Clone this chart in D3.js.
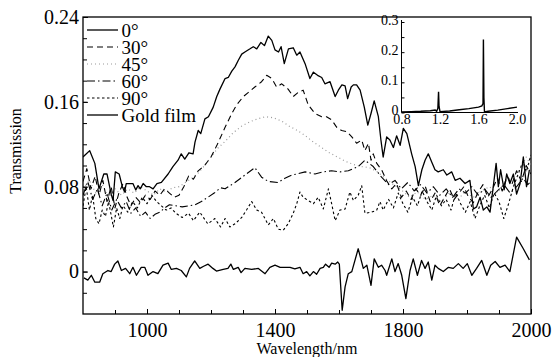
<!DOCTYPE html>
<html><head><meta charset="utf-8">
<script src="https://cdn.jsdelivr.net/npm/d3@7"></script>
<style>
body{margin:0;background:#fff}
svg{display:block}
</style>
</head><body>
<svg id="c" width="553" height="357"></svg>
<script>
// ---------- data ----------
const xTickValues = [1000, 1400, 1800, 2200];
const xTickLabels = ["1000", "1400", "1800", "2000"];
const yTickValues = [0, 0.08, 0.16, 0.24];
const yTickLabels = ["0", "0.08", "0.16", "0.24"];
const seriesNames = ["0°", "30°", "45°", "60°", "90°", "Gold film"];

const deg0 = [[800,0.108],[821,0.114],[837,0.102],[850,0.078],[865,0.092],[875,0.092],[888,0.073],[894,0.067],[901,0.094],[913,0.092],[923,0.080],[930,0.075],[935,0.083],[956,0.083],[965,0.077],[972,0.081],[979,0.078],[988,0.083],[998,0.080],[1008,0.080],[1019,0.078],[1031,0.083],[1045,0.084],[1066,0.092],[1081,0.099],[1097,0.105],[1107,0.111],[1118,0.106],[1131,0.112],[1144,0.111],[1150,0.122],[1160,0.133],[1168,0.130],[1181,0.144],[1192,0.146],[1207,0.155],[1218,0.165],[1228,0.172],[1244,0.182],[1254,0.183],[1265,0.189],[1275,0.193],[1285,0.199],[1296,0.205],[1306,0.207],[1322,0.210],[1332,0.212],[1343,0.210],[1356,0.216],[1367,0.213],[1379,0.222],[1390,0.218],[1400,0.209],[1411,0.207],[1419,0.212],[1429,0.196],[1442,0.210],[1457,0.211],[1468,0.204],[1478,0.207],[1494,0.196],[1509,0.182],[1520,0.188],[1533,0.185],[1546,0.183],[1556,0.177],[1572,0.179],[1588,0.165],[1598,0.171],[1609,0.176],[1619,0.175],[1627,0.163],[1638,0.174],[1645,0.176],[1655,0.176],[1666,0.171],[1679,0.155],[1690,0.138],[1700,0.149],[1710,0.161],[1723,0.146],[1731,0.124],[1738,0.108],[1749,0.127],[1759,0.124],[1770,0.117],[1780,0.128],[1791,0.119],[1801,0.135],[1812,0.130],[1827,0.111],[1838,0.099],[1848,0.081],[1859,0.096],[1869,0.105],[1879,0.111],[1890,0.103],[1900,0.096],[1910,0.094],[1926,0.096],[1937,0.091],[1952,0.094],[1963,0.086],[1978,0.088],[1994,0.083],[2009,0.086],[2020,0.059],[2030,0.061],[2041,0.070],[2051,0.058],[2062,0.061],[2072,0.056],[2082,0.080],[2091,0.102],[2098,0.080],[2105,0.096],[2116,0.077],[2124,0.092],[2134,0.083],[2145,0.092],[2155,0.073],[2166,0.083],[2176,0.108],[2186,0.080],[2195,0.096]];

const deg30 = [[800,0.085],[812,0.097],[825,0.078],[838,0.090],[850,0.072],[862,0.086],[875,0.066],[888,0.080],[900,0.060],[912,0.074],[925,0.083],[938,0.070],[950,0.062],[965,0.070],[980,0.065],[995,0.072],[1010,0.068],[1025,0.076],[1040,0.072],[1055,0.078],[1070,0.074],[1085,0.070],[1100,0.072],[1115,0.080],[1130,0.090],[1145,0.087],[1160,0.095],[1180,0.100],[1200,0.108],[1220,0.120],[1244,0.136],[1265,0.149],[1280,0.157],[1301,0.165],[1317,0.169],[1337,0.174],[1358,0.179],[1374,0.185],[1390,0.182],[1405,0.174],[1421,0.177],[1441,0.172],[1457,0.165],[1473,0.169],[1488,0.171],[1504,0.157],[1525,0.149],[1546,0.146],[1561,0.146],[1577,0.143],[1593,0.136],[1608,0.133],[1624,0.132],[1640,0.127],[1655,0.121],[1671,0.124],[1681,0.114],[1692,0.121],[1700,0.105],[1707,0.111],[1718,0.102],[1733,0.096],[1750,0.085],[1765,0.078],[1780,0.083],[1795,0.070],[1810,0.076],[1825,0.068],[1840,0.078],[1855,0.072],[1870,0.080],[1885,0.066],[1900,0.074],[1915,0.062],[1930,0.070],[1945,0.078],[1960,0.068],[1975,0.074],[1990,0.080],[2005,0.070],[2020,0.065],[2035,0.075],[2050,0.082],[2065,0.070],[2080,0.078],[2095,0.088],[2110,0.076],[2125,0.090],[2140,0.082],[2155,0.095],[2170,0.085],[2185,0.100],[2200,0.092]];

const deg45 = [[800,0.078],[820,0.086],[840,0.074],[860,0.082],[880,0.070],[900,0.078],[920,0.072],[940,0.078],[960,0.074],[980,0.080],[1000,0.076],[1020,0.072],[1040,0.078],[1060,0.075],[1080,0.079],[1100,0.080],[1120,0.084],[1140,0.088],[1160,0.093],[1180,0.100],[1200,0.108],[1220,0.116],[1245,0.123],[1270,0.131],[1295,0.137],[1320,0.141],[1345,0.144],[1370,0.146],[1395,0.145],[1420,0.142],[1445,0.137],[1470,0.133],[1495,0.128],[1520,0.122],[1545,0.117],[1570,0.112],[1595,0.108],[1620,0.104],[1645,0.101],[1670,0.099],[1695,0.098],[1720,0.094],[1745,0.088],[1770,0.082],[1795,0.077],[1820,0.070],[1845,0.075],[1870,0.068],[1895,0.072],[1920,0.066],[1945,0.074],[1970,0.068],[1995,0.075],[2020,0.070],[2045,0.076],[2070,0.080],[2095,0.074],[2120,0.085],[2145,0.090],[2170,0.098],[2185,0.108],[2200,0.100]];

const deg60 = [[800,0.072],[815,0.085],[830,0.068],[845,0.078],[860,0.062],[875,0.074],[890,0.058],[905,0.068],[920,0.060],[935,0.066],[950,0.055],[965,0.060],[980,0.052],[995,0.056],[1010,0.050],[1025,0.054],[1040,0.056],[1055,0.060],[1070,0.063],[1090,0.062],[1110,0.061],[1130,0.062],[1150,0.063],[1170,0.066],[1190,0.070],[1210,0.074],[1230,0.079],[1244,0.078],[1275,0.084],[1306,0.091],[1337,0.098],[1358,0.089],[1379,0.085],[1410,0.084],[1431,0.088],[1452,0.091],[1468,0.092],[1494,0.094],[1525,0.092],[1551,0.094],[1577,0.095],[1603,0.094],[1629,0.095],[1660,0.099],[1681,0.105],[1707,0.099],[1733,0.089],[1755,0.082],[1775,0.086],[1795,0.078],[1815,0.084],[1835,0.076],[1855,0.082],[1875,0.074],[1895,0.080],[1915,0.072],[1935,0.078],[1955,0.070],[1975,0.078],[1995,0.074],[2015,0.080],[2035,0.072],[2055,0.078],[2075,0.070],[2095,0.076],[2115,0.082],[2135,0.074],[2155,0.080],[2175,0.088],[2190,0.082],[2200,0.085]];

const deg90 = [[800,0.062],[810,0.080],[820,0.058],[830,0.072],[840,0.050],[850,0.045],[860,0.058],[870,0.052],[880,0.066],[895,0.042],[905,0.060],[915,0.050],[925,0.062],[940,0.056],[955,0.066],[970,0.060],[985,0.070],[1000,0.064],[1015,0.072],[1030,0.066],[1045,0.062],[1060,0.058],[1075,0.060],[1090,0.055],[1110,0.051],[1130,0.055],[1145,0.048],[1165,0.056],[1190,0.045],[1212,0.050],[1230,0.042],[1244,0.050],[1259,0.042],[1275,0.045],[1296,0.051],[1311,0.058],[1327,0.066],[1343,0.058],[1358,0.056],[1379,0.044],[1395,0.050],[1410,0.040],[1426,0.039],[1441,0.045],[1457,0.055],[1468,0.064],[1478,0.075],[1488,0.070],[1504,0.067],[1520,0.064],[1535,0.070],[1551,0.059],[1567,0.078],[1577,0.064],[1588,0.048],[1603,0.058],[1619,0.059],[1634,0.075],[1645,0.067],[1660,0.072],[1671,0.081],[1681,0.055],[1702,0.056],[1718,0.058],[1728,0.066],[1738,0.058],[1755,0.068],[1770,0.060],[1785,0.074],[1800,0.064],[1815,0.056],[1830,0.070],[1845,0.062],[1860,0.076],[1875,0.066],[1890,0.058],[1905,0.072],[1920,0.062],[1935,0.068],[1950,0.058],[1965,0.074],[1980,0.064],[1995,0.056],[2010,0.066],[2025,0.050],[2040,0.062],[2055,0.072],[2070,0.060],[2085,0.074],[2100,0.066],[2115,0.050],[2130,0.064],[2145,0.080],[2160,0.092],[2175,0.104],[2185,0.094],[2200,0.110]];

const goldFilm = [[803,-0.006],[815,-0.008],[826,-0.0035],[837,-0.010],[852,-0.010],[862,-0.002],[878,0.001],[888,0],[899,0.007],[909,0.010],[920,0.001],[933,0.003],[946,-0.002],[956,0.004],[967,-0.0035],[982,0.004],[993,0.004],[1003,-0.0035],[1019,0],[1034,-0.002],[1050,0.006],[1066,0.008],[1076,0.002],[1092,0.003],[1107,0.001],[1123,-0.005],[1133,0.003],[1149,0.010],[1165,0.003],[1177,0.005],[1191,0.007],[1206,0.003],[1217,0.0005],[1238,0.002],[1253,0.003],[1262,0.007],[1270,0.002],[1285,0.004],[1294,-0.001],[1306,0.003],[1327,0.002],[1348,0.003],[1369,-0.002],[1384,0.004],[1400,0.006],[1416,0.004],[1447,0.004],[1462,0.0025],[1478,0.004],[1488,-0.002],[1499,0],[1509,-0.004],[1520,0],[1530,-0.0025],[1541,0.003],[1551,0.004],[1558,0.007],[1569,0.004],[1577,0.008],[1588,0.007],[1596,0.009],[1601,0.007],[1610,-0.0365],[1619,-0.0145],[1629,-0.002],[1640,0],[1660,0.0215],[1676,0.003],[1687,0.006],[1700,-0.013],[1710,0.012],[1723,0.004],[1733,0.006],[1744,0.001],[1749,-0.0035],[1765,0.012],[1775,0],[1785,0.0075],[1796,-0.0035],[1809,-0.0255],[1822,0.001],[1832,0.012],[1845,-0.0035],[1858,0.0105],[1869,0.003],[1879,0.009],[1890,-0.008],[1900,0.006],[1910,0.003],[1926,0],[1942,0.004],[1957,0.003],[1973,0.0075],[1988,0.003],[2001,0.0075],[2015,-0.0035],[2030,0.003],[2046,0.0105],[2062,-0.0035],[2074,0.006],[2088,0.0095],[2103,0.004],[2119,0.006],[2134,0],[2155,0.0325],[2176,0.0215],[2195,0.011]];

// inset (wavelength in µm)
const insetData = [[0.8,0.002],[0.9,0.003],[1.0,0.004],[1.1,0.006],[1.15,0.008],[1.165,0.004],[1.178,0.014],[1.185,0.069],[1.19,0.02],[1.2,0.003],[1.3,0.005],[1.4,0.009],[1.5,0.013],[1.6,0.018],[1.635,0.022],[1.647,0.03],[1.651,0.242],[1.656,0.05],[1.662,0.002],[1.7,0.004],[1.8,0.008],[1.9,0.013],[2.0,0.018]];
const insetXTicks = [0.8, 1.2, 1.6, 2.0];
const insetYTicks = [0, 0.1, 0.2, 0.3];

// ---------- chart ----------
const FONT = "'Liberation Serif','Times New Roman','DejaVu Serif',serif";
const svg = d3.select("#c").attr("font-family", FONT);
const P = {l:83, r:531, t:17, b:314};
const x = d3.scaleLinear().domain([800, 2200]).range([P.l, P.r]);
const y = d3.scaleLinear().domain([-0.04, 0.24]).range([P.b, P.t]);

svg.append("defs").append("clipPath").attr("id","plotclip")
  .append("rect").attr("x",P.l).attr("y",P.t).attr("width",P.r-P.l).attr("height",P.b-P.t);

function styleAxis(g, size){
  g.attr("font-family", FONT).attr("font-size", size);
  g.select(".domain").remove();
  g.selectAll("text").attr("font-family", FONT).attr("font-size", size).attr("fill","#000");
  g.selectAll(".tick line").attr("stroke","#000").attr("stroke-width",1);
}

// minor + major ticks
svg.append("g").attr("transform",`translate(0,${P.b})`)
  .call(d3.axisBottom(x).tickValues(d3.range(900, 2200, 100)).tickSize(-4).tickFormat(""))
  .call(g=>styleAxis(g,20));
svg.append("g").attr("transform",`translate(0,${P.b})`)
  .call(d3.axisBottom(x).tickValues(xTickValues).tickSize(-5).tickPadding(9)
        .tickFormat((d,i)=>xTickLabels[i]))
  .call(g=>styleAxis(g,20));
svg.append("g").attr("transform",`translate(${P.l},0)`)
  .call(d3.axisLeft(y).tickValues(d3.range(-0.02, 0.2401, 0.02)).tickSize(-4).tickFormat(""))
  .call(g=>styleAxis(g,20));
svg.append("g").attr("transform",`translate(${P.l},0)`)
  .call(d3.axisLeft(y).tickValues(yTickValues).tickSize(-5).tickPadding(4)
        .tickFormat((d,i)=>yTickLabels[i]))
  .call(g=>styleAxis(g,20));

// frame
svg.append("rect").attr("x",P.l).attr("y",P.t).attr("width",P.r-P.l).attr("height",P.b-P.t)
  .attr("fill","none").attr("stroke","#000").attr("stroke-width",1.3);

// axis titles
svg.append("text").attr("x",(P.l+P.r)/2).attr("y",354).attr("text-anchor","middle")
  .attr("font-family",FONT).attr("font-size",16).text("Wavelength/nm");
svg.append("text").attr("transform","translate(21,151) rotate(-90)").attr("text-anchor","middle")
  .attr("font-family",FONT).attr("font-size",16).text("Transmission");

// series
const styles = [
  {data:deg0,  color:"#000", w:1.3, dash:null},
  {data:deg30, color:"#000", w:1.1, dash:"6,4"},
  {data:deg45, color:"#9a9a9a", w:1.2, dash:"1,3"},
  {data:deg60, color:"#000", w:1.1, dash:"8,3,1.5,3"},
  {data:deg90, color:"#000", w:1.1, dash:"2.5,2.5"},
  {data:goldFilm, color:"#000", w:1.3, dash:null}
];
const line = d3.line().x(d=>x(d[0])).y(d=>y(d[1]));
const gS = svg.append("g").attr("clip-path","url(#plotclip)");
styles.slice().reverse().forEach(s=>{
  gS.append("path").datum(s.data).attr("d",line).attr("fill","none")
    .attr("stroke",s.color).attr("stroke-width",s.w).attr("stroke-linejoin","round")
    .attr("stroke-dasharray",s.dash);
});

// legend
const leg = svg.append("g");
seriesNames.forEach((name,i)=>{
  const ly = 30 + i*17;
  const s = styles[i];
  leg.append("line").attr("x1",87).attr("x2",118).attr("y1",ly).attr("y2",ly)
    .attr("stroke",s.color).attr("stroke-width",s.w).attr("stroke-dasharray",s.dash);
  leg.append("text").attr("x",121.5).attr("y",ly+6.5).attr("font-family",FONT)
    .attr("font-size",19).text(name);
});

// inset
const ix = d3.scaleLinear().domain([0.8, 2.0]).range([401.5, 517]);
const iy = d3.scaleLinear().domain([0, 0.3]).range([112.5, 22]);
const gi = svg.append("g");
gi.append("g").attr("transform","translate(401.5,0)")
  .call(d3.axisLeft(iy).tickValues(d3.range(0,0.301,0.05)).tickSize(-3).tickFormat(""))
  .call(g=>styleAxis(g,14));
gi.append("g").attr("transform","translate(401.5,-2)")
  .call(d3.axisLeft(iy).tickValues(insetYTicks).tickSize(0).tickPadding(3).tickFormat(d3.format("")))
  .call(g=>styleAxis(g,14));
gi.append("g").attr("transform","translate(0,112.5)")
  .call(d3.axisBottom(ix).tickValues(insetXTicks).tickSize(0).tickPadding(2).tickFormat(d3.format(".1f")))
  .call(g=>styleAxis(g,14));
gi.append("line").attr("x1",ix(0.8)).attr("x2",ix(0.8)).attr("y1",iy(0)).attr("y2",iy(0.3)-2).attr("stroke","#000").attr("stroke-width",1);
gi.append("line").attr("x1",ix(0.8)).attr("x2",ix(2.0)+1).attr("y1",iy(0)).attr("y2",iy(0)).attr("stroke","#000").attr("stroke-width",1);
const iline = d3.line().x(d=>ix(d[0])).y(d=>iy(d[1]));
gi.append("path").datum(insetData).attr("d",iline).attr("fill","none").attr("stroke","#000").attr("stroke-width",1.4);
</script>
</body></html>
